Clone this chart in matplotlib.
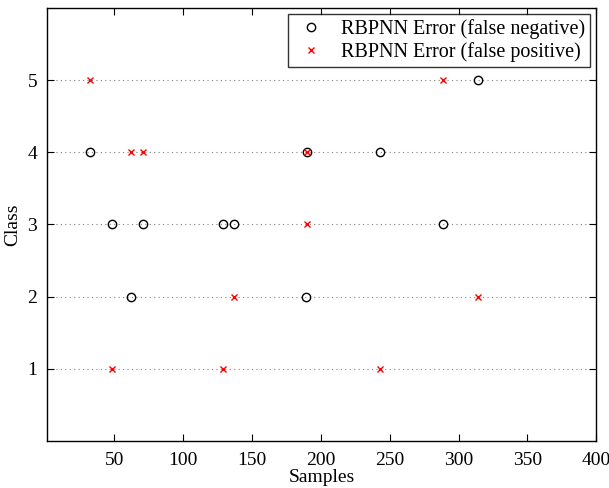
import matplotlib
matplotlib.use('Agg')
import matplotlib.pyplot as plt

# Data
fn_samples = [32, 48, 62, 71, 129, 137, 189, 190, 243, 289, 314]
fn_class = [4, 3, 2, 3, 3, 3, 2, 4, 4, 3, 5]
fp_samples = [32, 48, 62, 71, 129, 137, 190, 190, 243, 289, 314]
fp_class = [5, 1, 4, 4, 1, 2, 4, 3, 1, 5, 2]
x_ticks = [50, 100, 150, 200, 250, 300, 350, 400]
y_ticks = [1, 2, 3, 4, 5]

plt.rcParams['font.family'] = ['Liberation Serif', 'DejaVu Serif']

fig = plt.figure(figsize=(6.09, 4.88), dpi=100)
ax = fig.add_axes([0.077, 0.096, 0.902, 0.888])

ax.plot(fn_samples, fn_class, 'o', linestyle='none', markersize=6,
        markerfacecolor='none', markeredgecolor='black', markeredgewidth=1.0,
        label='RBPNN Error (false negative)')
ax.plot(fp_samples, fp_class, 'x', linestyle='none', markersize=4,
        color='red', markeredgewidth=1.0,
        label='RBPNN Error (false positive)')

ax.set_xlim(1, 400)
ax.set_ylim(0, 6)
ax.set_xticks(x_ticks)
ax.set_yticks(y_ticks)
ax.yaxis.grid(True, linestyle=(0, (1, 3)), color='gray', linewidth=0.8)
ax.set_axisbelow(True)
ax.tick_params(direction='in', top=True, right=True, labelsize=14, length=5)
ax.tick_params(axis='x', pad=8)
ax.tick_params(axis='y', pad=7)
for s in ax.spines.values():
    s.set_linewidth(1.0)

ax.set_xlabel('Samples', fontsize=14, labelpad=0)
ax.set_ylabel('Class', fontsize=14, labelpad=4)

leg = ax.legend(loc='upper right', fontsize=14.5, frameon=True, fancybox=False,
                edgecolor='black', borderaxespad=0.3, handlelength=1.8,
                borderpad=0.25, labelspacing=0.15, handletextpad=0.6)
leg.get_frame().set_linewidth(1.0)

fig.savefig('out.png', dpi=100)
